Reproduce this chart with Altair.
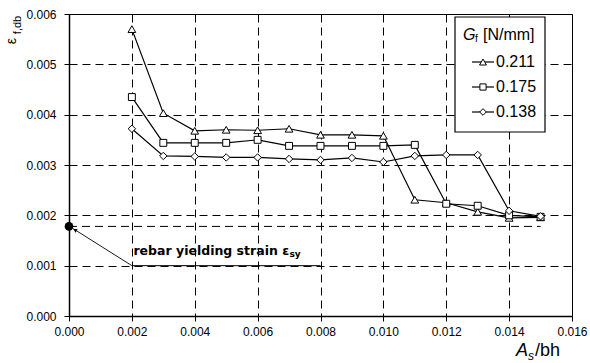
import altair as alt
import pandas as pd

# ---- data ----
ratio = [0.002, 0.003, 0.004, 0.005, 0.006, 0.007, 0.008, 0.009, 0.010,
         0.011, 0.012, 0.013, 0.014, 0.015]
gf_0211 = [0.00570, 0.00403, 0.00368, 0.00370, 0.00369, 0.00372, 0.00360,
           0.00360, 0.00358, 0.00231, 0.00225, 0.00207, 0.00195, 0.00196]
gf_0175 = [0.00435, 0.00344, 0.00344, 0.00344, 0.00350, 0.00338, 0.00338,
           0.00338, 0.00338, 0.00340, 0.00223, 0.00219, 0.00200, 0.00197]
gf_0138 = [0.00372, 0.00318, 0.00317, 0.00315, 0.00315, 0.00312, 0.00310,
           0.00314, 0.00306, 0.00318, 0.00320, 0.00320, 0.00209, 0.00198]
series_names = ["0.211", "0.175", "0.138"]
series_shapes = ["triangle-up", "square", "diamond"]
series_sizes = [60, 48, 55]
yield_strain = 0.00178
yield_line_end = 0.015
label_anchor = [0.002, 0.001]
label_line_end = 0.008
x_ticks = [0.000, 0.002, 0.004, 0.006, 0.008, 0.010, 0.012, 0.014, 0.016]
y_ticks = [0.000, 0.001, 0.002, 0.003, 0.004, 0.005, 0.006]

rows = []
for name, vals in zip(series_names, [gf_0211, gf_0175, gf_0138]):
    for xv, yv in zip(ratio, vals):
        rows.append({"ratio": xv, "eps": yv, "Gf": name})
df = pd.DataFrame(rows)

FONT = "Liberation Sans"
xs = alt.Scale(domain=[0, 0.016], nice=False)
ys = alt.Scale(domain=[0, 0.006], nice=False)
X = alt.X("ratio:Q", scale=xs,
          axis=alt.Axis(values=x_ticks, format=".3f", title=None, labelFlush=False,
                        labelPadding=5))
Y = alt.Y("eps:Q", scale=ys,
          axis=alt.Axis(values=y_ticks, format=".3f", title=None, labelFlush=False,
                        labelPadding=8))

layers = []
for name, shape, size in zip(series_names, series_shapes, series_sizes):
    d = df[df.Gf == name]
    layers.append(alt.Chart(d).mark_line(color="black", strokeWidth=1.2)
                  .encode(x=X, y=Y))
for name, shape, size in zip(series_names, series_shapes, series_sizes):
    d = df[df.Gf == name]
    layers.append(alt.Chart(d).mark_point(shape=shape, size=size, filled=True,
                                          fill="white", stroke="black",
                                          strokeWidth=1, opacity=1)
                  .encode(x=X, y=Y))

# yield strain annotation
ydf = pd.DataFrame({"ratio": [0.0], "eps": [yield_strain], "r2": [yield_line_end]})
layers.append(alt.Chart(ydf).mark_rule(color="black", strokeDash=[8, 5], strokeWidth=1)
              .encode(x=X, x2="r2:Q", y=Y))
layers.append(alt.Chart(ydf).mark_point(shape="circle", size=75, filled=True,
                                        color="black", opacity=1)
              .encode(x=X, y=Y))
adf = pd.DataFrame({"ratio": [label_anchor[0], 0.00012],
                    "eps": [label_anchor[1], 0.00174]})
layers.append(alt.Chart(adf).mark_line(color="black", strokeWidth=0.9)
              .encode(x=X, y=Y))
hdf = pd.DataFrame({"ratio": [0.00019], "eps": [0.00171]})
layers.append(alt.Chart(hdf).mark_point(shape="triangle-up", size=18, filled=True,
                                        color="black", opacity=1, angle=302)
              .encode(x=X, y=Y))
ldf = pd.DataFrame({"ratio": [label_anchor[0]], "eps": [label_anchor[1]],
                    "r2": [label_line_end]})
layers.append(alt.Chart(ldf).mark_rule(color="black", strokeWidth=1)
              .encode(x=X, x2="r2:Q", y=Y))
tdf = pd.DataFrame({"ratio": [0.00205], "eps": [0.00129]})
layers.append(alt.Chart(tdf).mark_text(text="rebar yielding strain \u03b5", align="left",
                                       baseline="middle", font="DejaVu Sans",
                                       fontWeight="bold", fontSize=12.5, color="black")
              .encode(x=X, y=Y))
layers.append(alt.Chart(tdf).mark_text(text="sy", align="left", dx=156, dy=3,
                                       baseline="middle", font="DejaVu Sans",
                                       fontWeight="bold", fontSize=9, color="black")
              .encode(x=X, y=Y))

# axis titles
one = pd.DataFrame({"k": [0]})
layers.append(alt.Chart(one).mark_text(text="\u03b5", angle=270, font=FONT, fontSize=14,
                                       align="center", baseline="middle", color="black")
              .encode(x=alt.value(-57), y=alt.value(27)))
layers.append(alt.Chart(one).mark_text(text="f,db", angle=270, font=FONT, fontSize=11,
                                       align="center", baseline="middle", color="black")
              .encode(x=alt.value(-51), y=alt.value(11)))
layers.append(alt.Chart(one).mark_text(text="A", font=FONT, fontSize=18, fontStyle="italic",
                                       align="left", baseline="alphabetic", color="black")
              .encode(x=alt.value(447), y=alt.value(342)))
layers.append(alt.Chart(one).mark_text(text="s", font=FONT, fontSize=12, fontStyle="italic",
                                       align="left", baseline="alphabetic", color="black")
              .encode(x=alt.value(459), y=alt.value(346)))
layers.append(alt.Chart(one).mark_text(text="/bh", font=FONT, fontSize=18,
                                       align="left", baseline="alphabetic", color="black")
              .encode(x=alt.value(466), y=alt.value(342)))

# legend (box, title, entries)
layers.append(alt.Chart(one).mark_rect(fill="white", stroke="black", strokeWidth=1.2)
              .encode(x=alt.value(386), x2=alt.value(476), y=alt.value(3), y2=alt.value(118)))
layers.append(alt.Chart(one).mark_text(text="G", font=FONT, fontSize=16, fontStyle="italic",
                                       align="left", baseline="middle", color="black")
              .encode(x=alt.value(394), y=alt.value(21)))
layers.append(alt.Chart(one).mark_text(text="f", font=FONT, fontSize=10,
                                       align="left", baseline="middle", color="black")
              .encode(x=alt.value(406), y=alt.value(25)))
layers.append(alt.Chart(one).mark_text(text="[N/mm]", font=FONT, fontSize=16,
                                       align="left", baseline="middle", color="black")
              .encode(x=alt.value(414), y=alt.value(21)))
for i, (name, shape, size) in enumerate(zip(series_names, series_shapes, series_sizes)):
    yy = 48 + 25 * i
    layers.append(alt.Chart(one).mark_rule(color="black", strokeWidth=1.2)
                  .encode(x=alt.value(403), x2=alt.value(425), y=alt.value(yy)))
    layers.append(alt.Chart(one).mark_point(shape=shape, size=size * 0.8, filled=True,
                                            fill="white", stroke="black", strokeWidth=1,
                                            opacity=1)
                  .encode(x=alt.value(414), y=alt.value(yy)))
    layers.append(alt.Chart(one).mark_text(text=name, font=FONT, fontSize=16,
                                           align="left", baseline="middle", color="black")
                  .encode(x=alt.value(427), y=alt.value(yy)))

chart = (alt.layer(*layers)
         .properties(width=503, height=302,
                     autosize=alt.AutoSizeParams(type="none"),
                     padding={"left": 69, "top": 14, "right": 18, "bottom": 47},
                     background="white")
         .configure_view(stroke="black", strokeWidth=1)
         .configure_axis(grid=True, gridColor="black", gridDash=[8, 5], gridWidth=1,
                         gridOpacity=1, domainColor="black", domainWidth=1.5,
                         tickColor="black", tickSize=5, labelFont=FONT, labelFontSize=12,
                         labelColor="black")
         )

chart.save("out.html", embed_options={"renderer": "svg", "actions": False})
